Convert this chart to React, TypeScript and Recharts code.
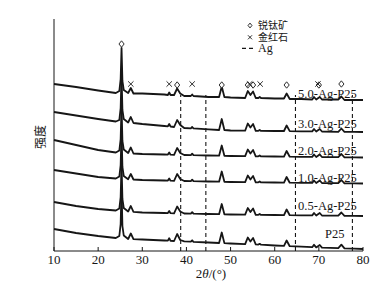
import { ComposedChart, Line, Scatter, XAxis, YAxis, ReferenceLine, ReferenceDot } from 'recharts'

const SERIF = '"Liberation Serif", "Times New Roman", serif'
const CJK = '"Noto Sans CJK SC", sans-serif'
const INK = '#161616'

// 2θ positions (°) where the traces were read
const TWO_THETA = [10, 15, 20, 24, 24.8, 25.1, 25.3, 25.5, 25.8, 26.8, 27.4, 28, 30, 35, 35.8, 36.1, 36.4, 37.2, 37.9, 38.6, 39.5, 41, 41.3, 41.6, 45, 47.4, 48, 48.6, 50, 53.3, 53.9, 54.5, 55.1, 55.7, 56.3, 56.6, 56.9, 60, 62.1, 62.7, 63.4, 66, 68.5, 68.9, 69.4, 70.2, 70.7, 74.4, 75.1, 75.8, 78, 80]

// stacked intensities (a.u.), top trace first
const S50 = [167, 164, 160.5, 158, 160, 172, 203, 170, 161, 158, 163, 157.5, 157.5, 156.5, 156, 158.5, 156, 156, 162.5, 157.5, 155, 155, 156.5, 155, 154, 154, 164.5, 154, 153.5, 153, 160, 156, 159.5, 153, 153, 154, 153, 152.5, 152.5, 157.5, 152, 152, 151.5, 154, 151.5, 154, 151.5, 151.5, 154.5, 151, 151, 151]
const S30 = [139, 135.5, 132, 129.5, 131, 143, 176, 141, 132, 128.5, 134, 128, 127, 125, 124.7, 127, 124.5, 124, 131, 126, 123, 122.7, 124, 122.6, 121.7, 121, 132, 121, 120.5, 120.3, 127.5, 123.5, 127, 120.2, 120.2, 121, 120.1, 120, 120, 125.5, 119.9, 119.7, 119.6, 122, 119.5, 122, 119.5, 119.2, 122.5, 119.2, 119.1, 119]
const S20 = [111, 106, 101, 98.5, 100.5, 112, 145, 110, 101.5, 98, 103.5, 97.5, 97, 96.5, 96.4, 98.5, 96.3, 96.2, 103, 98, 96, 95.9, 97.3, 95.8, 95.5, 95.3, 105.5, 95.2, 95, 94.8, 101.5, 97.5, 101, 94.7, 94.7, 95.5, 94.6, 94.5, 94.4, 100, 94.3, 94.2, 94.1, 96.5, 94, 96.5, 94, 93.8, 97, 93.7, 93.6, 93.5]
const S10 = [81, 77.5, 74, 72.5, 74.5, 86, 119, 84, 75, 71.8, 77, 71.5, 71, 70.5, 70.4, 72.5, 70.3, 70.2, 77, 72, 70, 69.9, 71.3, 69.8, 69.5, 69.3, 79.5, 69.2, 69, 68.8, 75.5, 71.5, 75, 68.7, 68.7, 69.5, 68.6, 68.5, 68.4, 74, 68.3, 68.2, 68.1, 70.5, 68, 70.5, 68, 67.8, 71, 67.7, 67.6, 67.5]
const S05 = [49, 45, 42, 40.5, 42.5, 54, 87, 52, 43, 39.5, 45, 39.2, 38.5, 38, 37.9, 40, 37.8, 37.7, 44.5, 39.5, 37.5, 37.4, 38.8, 37.3, 37, 36.8, 47, 36.7, 36.5, 36.3, 43, 39, 42.5, 36.2, 36.2, 37, 36.1, 36, 35.9, 41.5, 35.8, 35.7, 35.6, 38, 35.5, 38, 35.5, 35.3, 38.5, 35.2, 35.1, 35]
const SP25 = [22, 18, 15, 13, 15, 27, 62, 25, 15.5, 12, 17.5, 11.8, 11.5, 10.5, 10.3, 12.8, 10.2, 10, 17, 11, 9.6, 9.3, 10.7, 9.2, 8.5, 8, 18.5, 7.9, 7.5, 6.8, 13.5, 9.5, 13, 6.6, 6.4, 7.2, 6.3, 5.5, 5.1, 10.5, 4.8, 4.3, 3.8, 6.2, 3.6, 6, 3.4, 2.9, 6.3, 2.7, 2.3, 2]

const SERIES_KEYS = ['s50', 's30', 's20', 's10', 's05', 'p25']
const SERIES_VALUES = [S50, S30, S20, S10, S05, SP25]
const SAMPLE_NAMES = ['5.0-Ag-P25', '3.0-Ag-P25', '2.0-Ag-P25', '1.0-Ag-P25', '0.5-Ag-P25', 'P25']
const LABEL_T = [65.3, 65.3, 65.3, 65.3, 65.3, 71.4]
const LABEL_Y = [153, 123, 96, 69, 41, 13]

// phase markers
const ANATASE_T = [25.3, 37.9, 48.0, 53.9, 55.1, 62.7, 70.0, 75.1]
const ANATASE_Y = [207, 166, 166, 166, 166, 166, 166, 167]
const RUTILE_T = [27.4, 36.1, 41.3, 54.3, 56.7, 69.8]
const RUTILE_Y = [167, 167, 167, 167, 167, 167]

// Ag reference positions
const AG_T = [38.7, 44.4, 64.7, 77.6]
const AG_TOP = 156

const X_TICKS = [10, 20, 30, 40, 50, 60, 70, 80]

const diamondPath = (cx: number, cy: number, k: number) =>
  `M${cx},${cy - 3.2 * k} L${cx + 2.6 * k},${cy} L${cx},${cy + 3.2 * k} L${cx - 2.6 * k},${cy} Z`

const crossPath = (cx: number, cy: number, k: number) => {
  const a = 2.7 * k
  return `M${cx - a},${cy - a} L${cx + a},${cy + a} M${cx + a},${cy - a} L${cx - a},${cy + a}`
}

const Diamond = (p: any) => (
  <path d={diamondPath(p.cx, p.cy, 1)} fill="#fff" stroke={INK} strokeWidth={0.9} />
)

const Cross = (p: any) => (
  <path d={crossPath(p.cx, p.cy, 1)} fill="none" stroke={INK} strokeWidth={0.9} />
)

export default function App() {
  const rows = TWO_THETA.map((t, i) => {
    const r: Record<string, number> = { t }
    SERIES_KEYS.forEach((k, j) => { r[k] = SERIES_VALUES[j][i] })
    return r
  })
  const anatase = ANATASE_T.map((t, i) => ({ t, m: ANATASE_Y[i] }))
  const rutile = RUTILE_T.map((t, i) => ({ t, m: RUTILE_Y[i] }))

  return (
    <div style={{ position: 'absolute', left: 0, top: 0, width: 389, height: 288, background: '#fff' }}>
      <ComposedChart width={389} height={288} data={rows} margin={{ top: 19, right: 26, bottom: 7, left: 0 }}>
        <XAxis
          dataKey="t" type="number" domain={[10, 80]} ticks={X_TICKS}
          height={30} tickSize={-4} tickMargin={8}
          stroke={INK} tick={{ fill: INK, fontSize: 13, fontFamily: SERIF }}
        />
        <YAxis type="number" domain={[0, 232]} ticks={[232]} width={54} tickSize={-4} tick={false} stroke={INK} />
        {AG_T.map((t) => (
          <ReferenceLine key={t} segment={[{ x: t, y: 0 }, { x: t, y: AG_TOP }]} stroke={INK} strokeWidth={1.1} strokeDasharray="4 3" />
        ))}
        {SERIES_KEYS.map((k) => (
          <Line key={k} dataKey={k} type="linear" stroke={INK} strokeWidth={1.8} dot={false} activeDot={false} isAnimationActive={false} strokeLinejoin="round" />
        ))}
        <Scatter data={anatase} dataKey="m" shape={Diamond} isAnimationActive={false} />
        <Scatter data={rutile} dataKey="m" shape={Cross} isAnimationActive={false} />
        {SAMPLE_NAMES.map((n, i) => (
          <ReferenceDot
            key={n} x={LABEL_T[i]} y={LABEL_Y[i]} r={0}
            shape={(p: any) => (
              <text x={p.cx} y={p.cy} fill={INK} fontSize={12.5} fontFamily={SERIF}>{n}</text>
            )}
          />
        ))}
      </ComposedChart>
      <svg width={389} height={288} style={{ position: 'absolute', left: 0, top: 0, pointerEvents: 'none' }}>
        {/* legend: one text block, three lines */}
        <path d={diamondPath(250, 25.5, 0.75)} fill="#fff" stroke={INK} strokeWidth={0.9} />
        <path d={crossPath(250, 37.3, 0.75)} fill="none" stroke={INK} strokeWidth={0.9} />
        <line x1={242} y1={48.3} x2={256} y2={48.3} stroke={INK} strokeWidth={1.2} strokeDasharray="4 3" />
        <text fill={INK} fontSize={10} fontFamily={CJK}>
          <tspan x={258} y={29.2}>锐钛矿</tspan>
          <tspan x={258} y={41}>金红石</tspan>
          <tspan x={258} y={52.3} fontSize={12} fontFamily={SERIF}>Ag</tspan>
        </text>
        {/* axis titles */}
        <text x={45} y={137} fontSize={12} fontFamily={CJK} fill={INK} textAnchor="middle" transform="rotate(-90 45 137)">强度</text>
        <text x={211} y={278} fontSize={13} fontFamily={SERIF} fill={INK} textAnchor="middle">
          2<tspan fontStyle="italic">θ</tspan>/(°)
        </text>
      </svg>
    </div>
  )
}
